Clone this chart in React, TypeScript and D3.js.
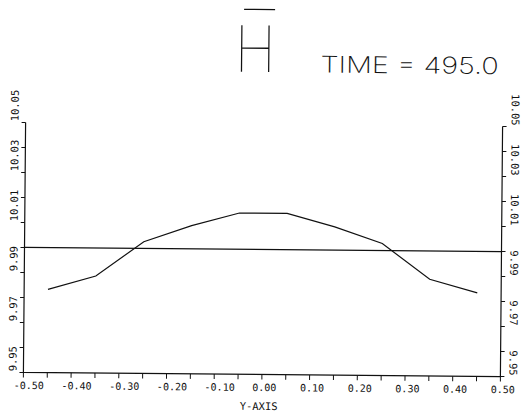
import React from "react";
import * as d3 from "d3";

// ---- data ----
const yPositions = [-0.45, -0.35, -0.25, -0.15, -0.05, 0.05, 0.15, 0.25, 0.35, 0.45];
const hValues = [9.9833, 9.9888, 10.0027, 10.0093, 10.0145, 10.0145, 10.0093, 10.0028, 9.9887, 9.9834];
const referenceLevel = 10.0;
const xMajorTicks = [-0.5, -0.4, -0.3, -0.2, -0.1, 0.0, 0.1, 0.2, 0.3, 0.4, 0.5];
const xMinorTicks = [-0.45, -0.35, -0.25, -0.15, -0.05, 0.05, 0.15, 0.25, 0.35, 0.45];
const yLabelTicks = [9.95, 9.97, 9.99, 10.01, 10.03, 10.05];
const yAllTicks = [9.95, 9.96, 9.97, 9.98, 9.99, 10.0, 10.01, 10.02, 10.03, 10.04, 10.05];
const timeValue = 495.0;
const xAxisTitle = "Y-AXIS";
const varName = "H";

const W = 521;
const H = 414;
const left = 24.5;
const right = 501.5;
const top = 124.5;
const bottom = 374.5;
const skew = 0.5; // degrees, scanned plot is slightly rotated

const monoFont = "'DejaVu Sans Mono', monospace";

export default function App() {
  const x = d3.scaleLinear().domain([-0.5, 0.5]).range([left, right]);
  const y = d3.scaleLinear().domain([9.95, 10.05]).range([bottom, top]);
  const line = d3
    .line<number>()
    .x((_, i) => x(yPositions[i]))
    .y((d) => y(d));
  const cx = (left + right) / 2;
  const cy = (top + bottom) / 2;
  const stroke = "#111";
  const sw = 1.2;

  return (
    <svg
      width={W}
      height={H}
      style={{ position: "absolute", left: 0, top: 0, background: "#fff" }}
    >
      <rect x={0} y={0} width={W} height={H} fill="#fff" />
      <g transform={`rotate(${skew} ${cx} ${cy})`}>
        {/* H with overbar */}
        <line x1={242} x2={273} y1={9.5} y2={9.5} stroke={stroke} strokeWidth={1.3} />
        <text
          x={0}
          y={0}
          transform="translate(233 72) scale(1 1.14)"
          fontFamily="Inter, sans-serif"
          fontWeight={100}
          fontSize={56}
          fill={stroke}
        >
          {varName}
        </text>
        <text
          x={319}
          y={72}
          fontFamily="Inter, sans-serif"
          fontWeight={200}
          fontSize={23}
          textLength={178}
          lengthAdjust="spacingAndGlyphs"
          fill={stroke}
        >
          {`TIME = ${timeValue.toFixed(1)}`}
        </text>

        {/* axes */}
        <path
          d={`M${left},${top}V${bottom}H${right}V${top}`}
          fill="none"
          stroke={stroke}
          strokeWidth={sw}
        />
        {xMajorTicks.concat(xMinorTicks).map((t, i) => (
          <line
            key={"xt" + i}
            x1={x(t)}
            x2={x(t)}
            y1={bottom}
            y2={bottom + 5}
            stroke={stroke}
            strokeWidth={1}
          />
        ))}
        {yAllTicks.map((t, i) => (
          <g key={"yt" + i}>
            <line x1={left - 4} x2={left} y1={y(t)} y2={y(t)} stroke={stroke} strokeWidth={1} />
            <line x1={right} x2={right + 4} y1={y(t)} y2={y(t)} stroke={stroke} strokeWidth={1} />
          </g>
        ))}
        {xMajorTicks.map((t, i) => (
          <text
            key={"xl" + i}
            x={x(t) - 9.5}
            y={391}
            fontFamily={monoFont}
            fontSize={10}
            fill={stroke}
          >
            {d3.format(".2f")(t).replace("−", "-")}
          </text>
        ))}
        {yLabelTicks.map((t, i) => (
          <g key={"yl" + i}>
            <text
              transform={`translate(17.5 ${y(t) - 1}) rotate(-90)`}
              fontFamily={monoFont}
              fontSize={10.5}
              fill={stroke}
            >
              {t.toFixed(2)}
            </text>
            <text
              transform={`translate(510.5 ${y(t) - 1}) rotate(90)`}
              textAnchor="end"
              fontFamily={monoFont}
              fontSize={10.5}
              fill={stroke}
            >
              {t.toFixed(2)}
            </text>
          </g>
        ))}
        <text
          x={cx - 3}
          y={410}
          textAnchor="middle"
          fontFamily={monoFont}
          fontSize={10.5}
          fill={stroke}
        >
          {xAxisTitle}
        </text>

        {/* reference level */}
        <line
          x1={x(-0.5)}
          x2={x(0.5)}
          y1={y(referenceLevel)}
          y2={y(referenceLevel)}
          stroke={stroke}
          strokeWidth={sw}
        />
        {/* profile */}
        <path d={line(hValues) ?? ""} fill="none" stroke={stroke} strokeWidth={sw} />
      </g>
    </svg>
  );
}
